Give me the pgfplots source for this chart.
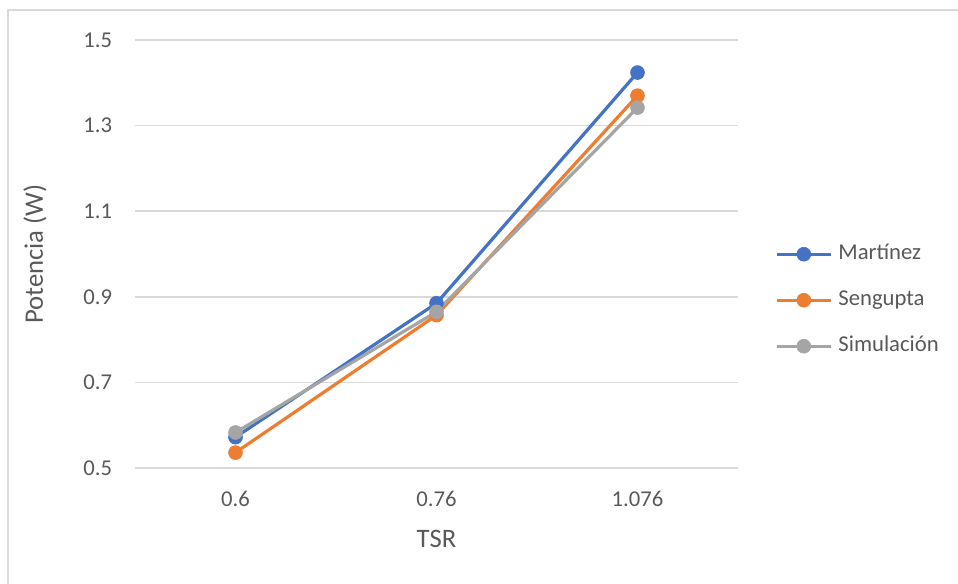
\documentclass[border=0pt]{standalone}
\usepackage{pgfplots}
\pgfplotsset{compat=1.18}
\usepackage{fontspec}
\setmainfont{Carlito}

\definecolor{serBlue}{HTML}{4472C4}
\definecolor{serOrange}{HTML}{ED7D31}
\definecolor{serGray}{HTML}{A5A5A5}
\definecolor{gridGray}{HTML}{D9D9D9}
\definecolor{txtGray}{HTML}{595959}

\begin{document}
\begin{tikzpicture}
% canvas: 958 x 583 px at 0.75 pt per px
\useasboundingbox (0,0) rectangle (718.5pt,437.25pt);
\draw[gridGray, line width=1pt] (6pt,-20pt) rectangle (740pt,429.75pt);
\begin{axis}[
  at={(101.25pt,86.25pt)}, anchor=south west,
  scale only axis, width=452.25pt, height=321pt,
  xmin=-0.5, xmax=2.5, ymin=0.5, ymax=1.5,
  xtick={0,1,2}, xticklabels={0.6,0.76,1.076},
  ytick={0.5,0.7,0.9,1.1,1.3,1.5},
  yticklabels={0.5,0.7,0.9,1.1,1.3,1.5},
  axis line style={draw=none},
  major tick length=0pt,
  ymajorgrids, grid style={gridGray, line width=1.1pt},
  tick label style={font=\fontsize{17}{20}\selectfont, text=txtGray, inner sep=0pt},
  yticklabel style={anchor=east, xshift=-17pt},
  xticklabel style={anchor=north, yshift=-17pt},
  every axis x label/.style={at={(axis description cs:0.5,0)}, anchor=center, yshift=-53.25pt,
    font=\fontsize{20}{24}\selectfont, text=txtGray},
  every axis y label/.style={at={(axis description cs:-0.1658,0.5)}, anchor=center, rotate=90,
    font=\fontsize{20}{24}\selectfont, text=txtGray},
  xlabel={TSR}, ylabel={Potencia (W)},
  clip=false,
  legend cell align=left,
  legend style={at={(axis description cs:1.0613,0.392)}, anchor=west,
    draw=none, fill=none, inner sep=0pt, row sep=18.5pt, column sep=4.5pt,
    font=\fontsize{17}{20}\selectfont, text=txtGray,
    nodes={inner sep=0pt, text height=12pt, text depth=4pt}},
  legend image code/.code={
    \draw[mark repeat=2, mark phase=2] plot coordinates {(0pt,0pt) (20.25pt,0pt) (40.5pt,0pt)};},
  every axis plot/.append style={line width=2.4pt, mark=*, mark size=5.2pt},
]
\addplot[serBlue, mark options={fill=serBlue, draw=serBlue, line width=0.5pt}]
  coordinates {(0,0.572) (1,0.885) (2,1.424)};
\addlegendentry{Martínez}
\addplot[serOrange, mark options={fill=serOrange, draw=serOrange, line width=0.5pt}]
  coordinates {(0,0.536) (1,0.857) (2,1.370)};
\addlegendentry{Sengupta}
\addplot[serGray, mark options={fill=serGray, draw=serGray, line width=0.5pt}]
  coordinates {(0,0.583) (1,0.865) (2,1.342)};
\addlegendentry{Simulación}
\end{axis}
\end{tikzpicture}
\end{document}
